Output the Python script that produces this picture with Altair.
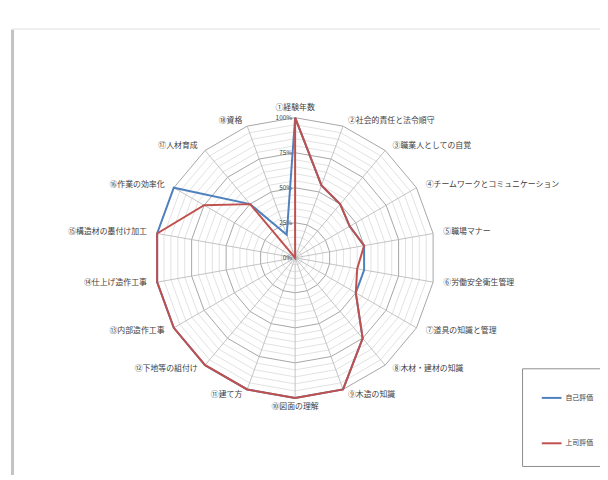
import altair as alt
import pandas as pd

# ---------------- data ----------------
categories = [
    "①経験年数", "②社会的責任と法令順守", "③職業人としての自覚",
    "④チームワークとコミュニケーション", "⑤職場マナー", "⑥労働安全衛生管理",
    "⑦道具の知識と管理", "⑧木材・建材の知識", "⑨木造の知識", "⑩図面の理解",
    "⑪建て方", "⑫下地等の組付け", "⑬内部造作工事", "⑭仕上げ造作工事",
    "⑮構造材の墨付け加工", "⑯作業の効率化", "⑰人材育成", "⑱資格",
]
self_eval = [100, 55, 50, 45, 50, 50, 50, 75, 100, 100, 100, 100, 100, 100, 100, 100, 50, 17.5]
boss_eval = [100, 55, 50, 45, 50, 45, 50, 75, 100, 100, 100, 100, 100, 100, 100, 75, 50, 0]
series_names = ["自己評価", "上司評価"]
series_colors = ["#4F81BD", "#C0504D"]
tick_values = [0, 25, 50, 75, 100]
tick_labels = ["0%", "25%", "50%", "75%", "100%"]
grid_levels = [5, 10, 15, 20, 25, 30, 35, 40, 45, 50, 55, 60, 65, 70, 75, 80, 85, 90, 95, 100]
major_levels = [25, 50, 75, 100]

N = len(categories)
FONT = "Noto Sans CJK JP"

# ---------------- tables ----------------
def series_table(name, values):
    rows = [{"series": name, "i": i, "v": values[i % N]} for i in range(N + 1)]
    return pd.DataFrame(rows)

self_df = series_table(series_names[0], self_eval)
boss_df = series_table(series_names[1], boss_eval)

ring_df = pd.DataFrame(
    [{"level": lv, "major": lv in major_levels, "i": i, "v": lv}
     for lv in grid_levels for i in range(N + 1)]
)
spoke_df = pd.DataFrame([{"i": i, "v": r} for i in range(N) for r in (0, 100)])
tick_df = pd.DataFrame({"i": 0, "v": tick_values, "label": tick_labels})
label_df = pd.DataFrame({"i": list(range(N)), "label": categories})

# ---------------- geometry (percent units, 1% = 1.42px) ----------------
W, H = 596, 452
CX, CY = 287, 232
PX = 1.42
xscale = alt.Scale(domain=[-CX / PX, (W - CX) / PX], nice=False, zero=False)
yscale = alt.Scale(domain=[-(H - CY) / PX, CY / PX], nice=False, zero=False)

ANG = "datum.i * 2 * PI / %d" % N


def polar(chart):
    return chart.transform_calculate(
        ang=ANG
    ).transform_calculate(
        px="sin(datum.ang) * datum.v", py="cos(datum.ang) * datum.v"
    )


X = alt.X("px:Q", scale=xscale, axis=None)
Y = alt.Y("py:Q", scale=yscale, axis=None)

minor_rings = polar(
    alt.Chart(ring_df).transform_filter("!datum.major").mark_line(
        color="#dadada", strokeWidth=0.8
    )
).encode(x=X, y=Y, detail="level:N", order="i:Q")

major_rings = polar(
    alt.Chart(ring_df).transform_filter("datum.major").mark_line(
        color="#a6a6a6", strokeWidth=1
    )
).encode(x=X, y=Y, detail="level:N", order="i:Q")

spokes = polar(
    alt.Chart(spoke_df).mark_line(color="#b4b4b4", strokeWidth=0.8)
).encode(x=X, y=Y, detail="i:N", order="v:Q")

ticks = polar(
    alt.Chart(tick_df).mark_text(
        align="right", baseline="middle", dx=-3, fontSize=6.5, font=FONT, color="#404040"
    )
).encode(x=X, y=Y, text="label:N")


def cat_labels(filter_expr, **kw):
    return alt.Chart(label_df).transform_filter(filter_expr).transform_calculate(
        ang=ANG
    ).transform_calculate(
        px="sin(datum.ang) * 106", py="cos(datum.ang) * 104"
    ).mark_text(fontSize=8, font=FONT, color="#404040", **kw).encode(
        x=X, y=Y, text="label:N"
    )

lab_top = cat_labels("datum.i == 0", align="center", baseline="bottom")
lab_bottom = cat_labels("datum.i == %d" % (N // 2), align="center", baseline="top")
lab_right = cat_labels("datum.i > 0 && datum.i < %d" % (N // 2), align="left", baseline="middle", dx=2)
lab_left = cat_labels("datum.i > %d" % (N // 2), align="right", baseline="middle", dx=-2)

color_enc = alt.Color(
    "series:N",
    scale=alt.Scale(domain=series_names, range=series_colors),
    legend=alt.Legend(
        title=None, orient="none", legendX=517, legendY=344, direction="vertical",
        symbolType="stroke", symbolSize=400, symbolStrokeWidth=2,
        labelFontSize=7, labelFont=FONT, labelColor="#404040", labelOffset=3,
        rowPadding=31, padding=19, strokeColor="#8c8c8c", fillColor="white",
    ),
)

self_line = polar(alt.Chart(self_df).mark_line(strokeWidth=2)).encode(
    x=X, y=Y, order="i:Q", color=color_enc
)
boss_line = polar(alt.Chart(boss_df).mark_line(strokeWidth=2)).encode(
    x=X, y=Y, order="i:Q", color=color_enc
)

frame_left = alt.Chart(label_df).mark_rule(color="#c4c4c4", strokeWidth=1.5).encode(
    x=alt.value(0.5), y=alt.value(0), y2=alt.value(H)
)
frame_top = alt.Chart(label_df).mark_rule(color="#eeeeee", strokeWidth=1).encode(
    x=alt.value(0), x2=alt.value(W), y=alt.value(0.5)
)

chart = alt.layer(
    minor_rings, major_rings, spokes, ticks,
    lab_top, lab_bottom, lab_right, lab_left,
    self_line, boss_line, frame_left, frame_top,
).properties(
    width=W, height=H,
    autosize=alt.AutoSizeParams(type="none"),
    padding={"left": 4, "top": 18, "right": 0, "bottom": 0},
    background="white",
).configure_view(stroke=None)

chart.save("out.html", embed_options={"renderer": "svg", "actions": False})
